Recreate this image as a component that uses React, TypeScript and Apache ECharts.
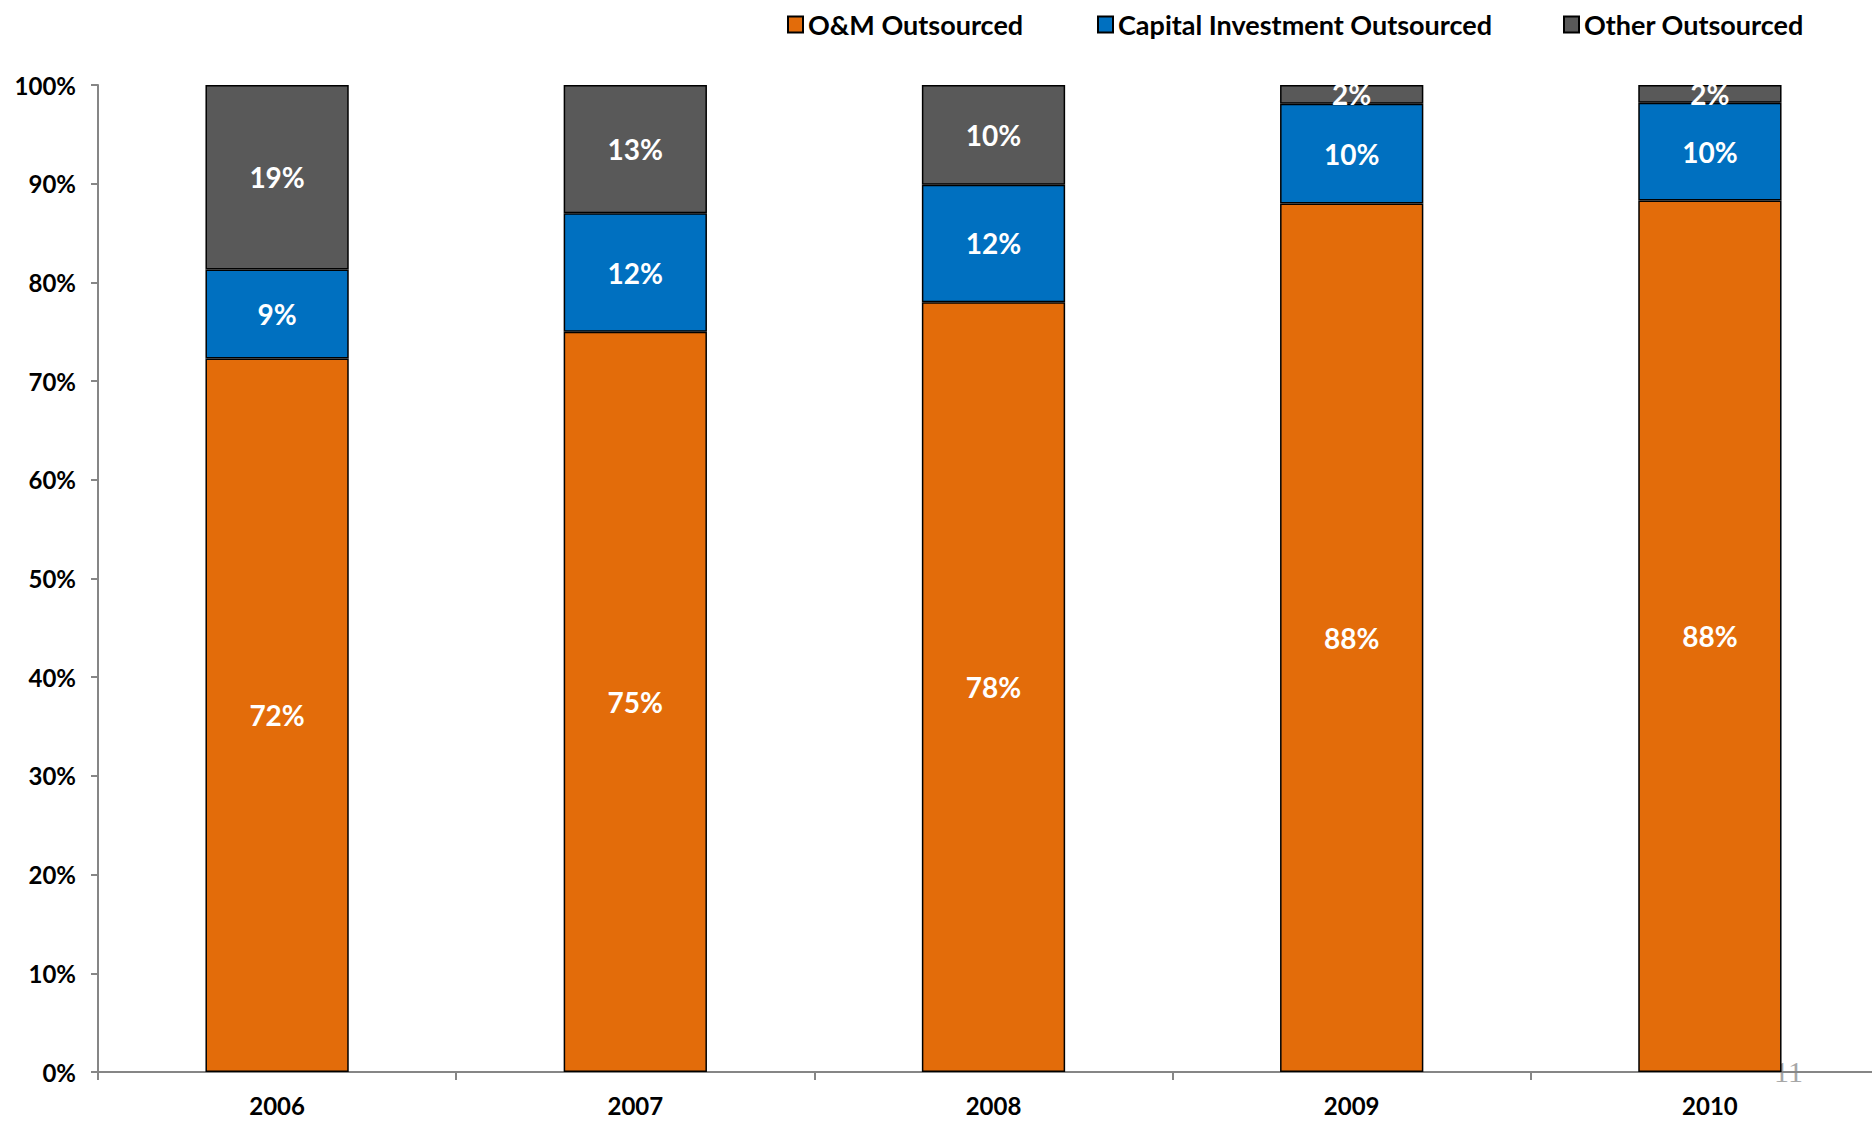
import React, { useEffect, useRef } from "react";
import * as echarts from "echarts";

const categories = ["2006", "2007", "2008", "2009", "2010"];
const omValues = [72.3, 75.0, 78.0, 88.0, 88.3];
const capitalValues = [9.0, 12.0, 11.9, 10.1, 9.9];
const otherValues = [18.7, 13.0, 10.1, 1.9, 1.8];
const seriesNames = ["O&M Outsourced", "Capital Investment Outsourced", "Other Outsourced"];
const yTicks = { min: 0, max: 100, interval: 10 };

const FONT = "Lato";

export default function App() {
  const ref = useRef<HTMLDivElement>(null);
  useEffect(() => {
    if (!ref.current) return;
    const chart = echarts.init(ref.current, null, { renderer: "svg" });
    const mkSeries = (name: string, data: number[], color: string) => ({
      name,
      type: "bar",
      stack: "total",
      data,
      barWidth: "40%",
      itemStyle: { color, borderColor: "#000", borderWidth: 1.5 },
      label: {
        show: true,
        position: "inside",
        color: "#fff",
        fontFamily: FONT,
        fontWeight: "bold",
        fontSize: 28,
        formatter: (p: any) => Math.round(p.value) + "%",
      },
    });
    const legendCommon = {
      top: 6,
      icon: "rect",
      itemWidth: 15,
      itemHeight: 16,
      textStyle: { fontFamily: FONT, fontWeight: "bold", fontSize: 27, color: "#000" },
    };
    chart.setOption({
      animation: false,
      backgroundColor: "#fff",
      legend: [
        { ...legendCommon, data: [seriesNames[0]], left: 782 },
        { ...legendCommon, data: [seriesNames[1]], left: 1092 },
        { ...legendCommon, data: [seriesNames[2]], left: 1558 },
      ],
      grid: { left: 98, top: 85, height: 987, right: 0 },
      xAxis: {
        type: "category",
        data: categories,
        axisLine: { lineStyle: { color: "#868686", width: 2 } },
        axisTick: { show: true, length: 8, lineStyle: { color: "#868686", width: 2 } },
        axisLabel: {
          color: "#000",
          fontFamily: FONT,
          fontWeight: "bold",
          fontSize: 24,
          margin: 21,
        },
      },
      yAxis: {
        type: "value",
        min: yTicks.min,
        max: yTicks.max,
        interval: yTicks.interval,
        axisLine: { show: true, lineStyle: { color: "#868686", width: 2 } },
        axisTick: { show: true, length: 7, lineStyle: { color: "#868686", width: 2 } },
        splitLine: { show: false },
        axisLabel: {
          color: "#000",
          fontFamily: FONT,
          fontWeight: "bold",
          fontSize: 24,
          margin: 22,
          formatter: "{value}%",
        },
      },
      series: [
        mkSeries(seriesNames[0], omValues, "#E36C0A"),
        mkSeries(seriesNames[1], capitalValues, "#0070C0"),
        mkSeries(seriesNames[2], otherValues, "#595959"),
      ],
      graphic: [
        {
          type: "text",
          left: 1774,
          top: 1056,
          style: { text: "11", fontFamily: "Liberation Serif", fontSize: 30, fill: "#A6A6A6" },
        },
      ],
    });
    return () => chart.dispose();
  }, []);
  return (
    <div
      ref={ref}
      style={{ position: "fixed", left: 0, top: 0, width: 1889, height: 1123 }}
    />
  );
}
